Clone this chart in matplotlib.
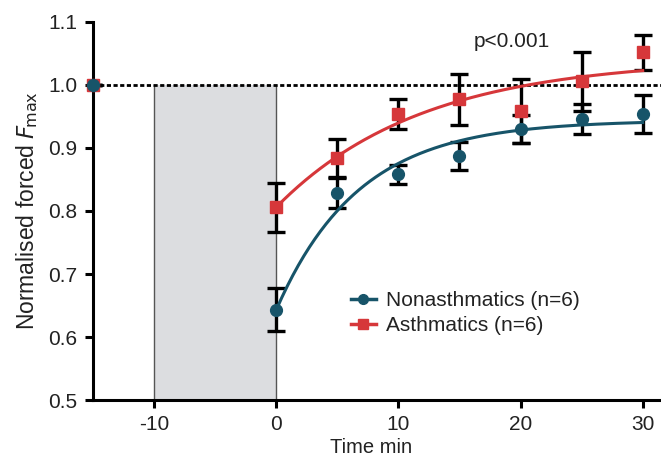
import numpy as np
import matplotlib
matplotlib.use("Agg")
import matplotlib.pyplot as plt

plt.rcParams['font.family'] = ['Liberation Sans', 'DejaVu Sans']
plt.rcParams['axes.unicode_minus'] = False

# Data
times = [-15, 0, 5, 10, 15, 20, 25, 30]
non_mean = [1.0, 0.643, 0.829, 0.858, 0.887, 0.930, 0.946, 0.954]
non_err = [0.0, 0.034, 0.025, 0.015, 0.022, 0.022, 0.024, 0.030]
ast_mean = [1.0, 0.806, 0.884, 0.954, 0.977, 0.959, 1.006, 1.052]
ast_err = [0.0, 0.039, 0.031, 0.024, 0.040, 0.051, 0.047, 0.028]

# Fitted one-phase association parameters (Y0, plateau, rate k)
non_fit = (0.643, 0.944, 0.148)
ast_fit = (0.806, 1.042, 0.0837)

blue = '#175469'
red = '#d6373a'
txt = '#222222'

fig = plt.figure(figsize=(6.61, 4.57), dpi=100)
ax = fig.add_axes([0.1407, 0.1247, 0.8593, 0.8272])

ax.set_xlim(-15, 31.5)
ax.set_ylim(0.5, 1.1)

# grey stimulus box
ax.fill_between([-10, 0], 0.5, 1.0, color='#dcdde0', zorder=0, linewidth=0)
ax.plot([-10, -10], [0.5, 1.0], color='#555555', lw=1.0, zorder=1)
ax.plot([0, 0], [0.5, 1.0], color='#555555', lw=1.0, zorder=1)

# dotted reference line
ax.axhline(1.0, color='black', lw=2.0, ls=(0, (1.5, 0.9)), zorder=2)

# error bars
ax.errorbar(times, ast_mean, yerr=ast_err, fmt='none', ecolor='black',
            elinewidth=2.4, capsize=6.5, capthick=2.4, zorder=3)
ax.errorbar(times, non_mean, yerr=non_err, fmt='none', ecolor='black',
            elinewidth=2.4, capsize=6.5, capthick=2.4, zorder=3)

# fitted curves
xf = np.linspace(0, 30, 200)
for (y0, p, k), c in [(non_fit, blue), (ast_fit, red)]:
    ax.plot(xf, y0 + (p - y0) * (1 - np.exp(-k * xf)), color=c, lw=2.2, zorder=4)

# markers
ax.plot(times, ast_mean, ls='none', marker='s', ms=8.5, color=red, zorder=5, clip_on=False)
ax.plot(times, non_mean, ls='none', marker='o', ms=8.5, color=blue, zorder=6, clip_on=False)

# legend handles
h1, = ax.plot([], [], color=blue, marker='o', ms=7, lw=2.5)
h2, = ax.plot([], [], color=red, marker='s', ms=7, lw=2.5)
leg = ax.legend([h1, h2], ['Nonasthmatics (n=6)', 'Asthmatics (n=6)'],
                loc='upper left', bbox_to_anchor=(0.439, 0.31), frameon=False,
                fontsize=15, handlelength=1.2, handletextpad=0.48,
                labelspacing=0.3, borderaxespad=0)
for t in leg.get_texts():
    t.set_color(txt)

ax.text(19.3, 1.069, 'p<0.001', fontsize=15, color=txt, ha='center', va='center')

ax.set_xticks([-10, 0, 10, 20, 30])
ax.set_yticks([0.5, 0.6, 0.7, 0.8, 0.9, 1.0, 1.1])
ax.set_yticklabels(['0.5', '0.6', '0.7', '0.8', '0.9', '1.0', '1.1'])
ax.tick_params(axis='both', labelsize=15, labelcolor=txt, width=2.2,
               length=6, direction='out', pad=5)

for s in ['top', 'right']:
    ax.spines[s].set_visible(False)
for s in ['left', 'bottom']:
    ax.spines[s].set_linewidth(2.2)
    ax.spines[s].set_color('black')

ax.set_xlabel('Time min', fontsize=14.5, color=txt, labelpad=0)
ax.xaxis.set_label_coords(0.49, -0.1)
ax.set_ylabel(r'Normalised forced $\mathit{F}_{\!\mathrm{max}}$', fontsize=16.5,
              color=txt, labelpad=6)

fig.savefig('out.png', dpi=100)
